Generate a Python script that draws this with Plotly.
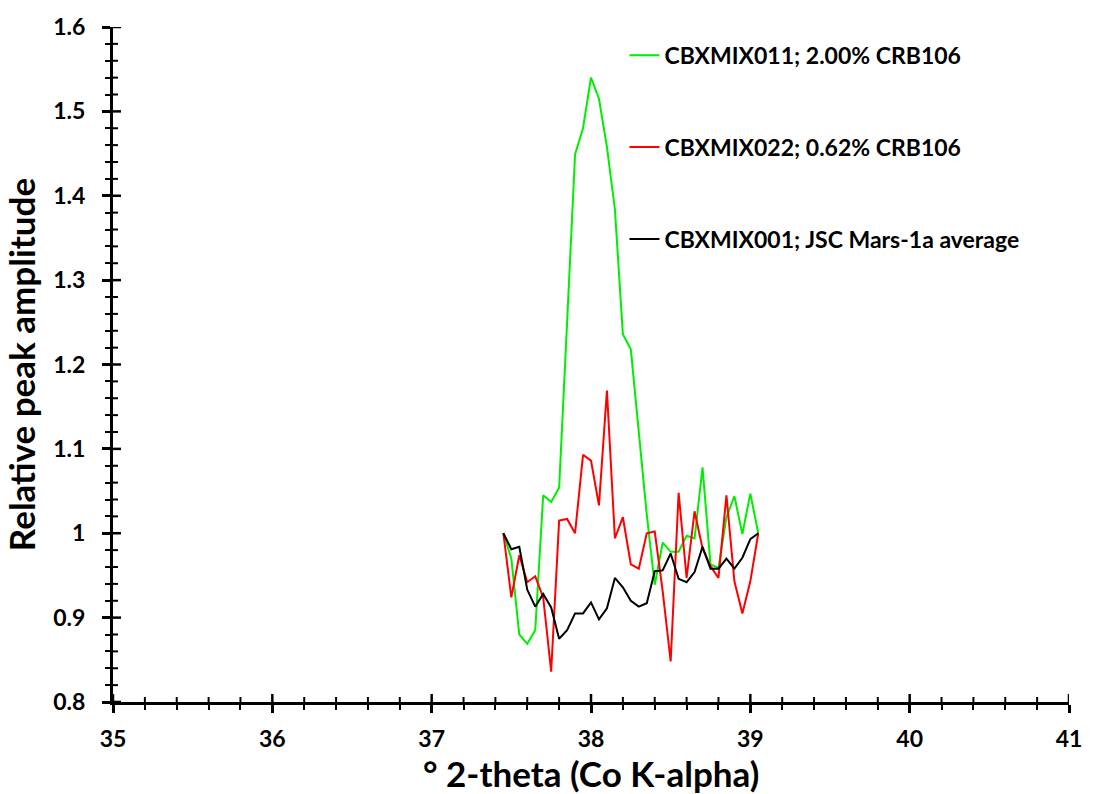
import plotly.graph_objects as go

# 2-theta positions (deg), step 0.05 from 37.45 to 39.05
two_theta = [round(37.45 + 0.05 * i, 2) for i in range(33)]

green_2pct = [1.000, 0.970, 0.880, 0.869, 0.885, 1.045, 1.037, 1.054, 1.250, 1.449,
              1.480, 1.540, 1.515, 1.458, 1.384, 1.236, 1.218, 1.119, 1.022, 0.939,
              0.989, 0.978, 0.978, 0.997, 0.994, 1.078, 0.963, 0.959, 1.019, 1.044,
              0.999, 1.047, 1.000]

red_062pct = [1.000, 0.924, 0.974, 0.942, 0.949, 0.924, 0.836, 1.015, 1.017, 1.000,
              1.093, 1.086, 1.033, 1.169, 0.994, 1.019, 0.963, 0.958, 1.000, 1.002,
              0.931, 0.848, 1.048, 0.947, 1.026, 0.982, 0.961, 0.947, 1.045, 0.943,
              0.905, 0.943, 1.000]

black_avg = [1.000, 0.981, 0.984, 0.933, 0.913, 0.928, 0.912, 0.875, 0.885, 0.905,
             0.905, 0.918, 0.898, 0.911, 0.947, 0.936, 0.920, 0.913, 0.917, 0.955,
             0.956, 0.976, 0.946, 0.942, 0.954, 0.984, 0.958, 0.958, 0.970, 0.958,
             0.971, 0.993, 1.000]

series_names = ["CBXMIX011; 2.00% CRB106",
                "CBXMIX022; 0.62% CRB106",
                "CBXMIX001; JSC Mars-1a average"]
series_colors = ["#00EE00", "#FF0000", "#000000"]

x_ticks = [35, 36, 37, 38, 39, 40, 41]
y_ticks = [0.8, 0.9, 1.0, 1.1, 1.2, 1.3, 1.4, 1.5, 1.6]
y_tick_text = ["0.8", "0.9", "1", "1.1", "1.2", "1.3", "1.4", "1.5", "1.6"]
x_range = [35, 41]
y_range = [0.8, 1.6]
x_minor_step = 0.2
y_minor_step = 0.02

FONT = "Lato"

fig = go.Figure()
for name, ys, col in zip(series_names, [green_2pct, red_062pct, black_avg], series_colors):
    fig.add_trace(go.Scatter(x=two_theta, y=ys, mode="lines", name=name,
                             legendgroup=name,
                             line=dict(color=col, width=2)))

axis_common = dict(showgrid=False, zeroline=False, showline=True, linecolor="black",
                   linewidth=3, ticks="outside", tickwidth=2.5, ticklen=8, tickcolor="black",
                   tickfont=dict(family=FONT, size=23, color="black", weight="bold"))

fig.update_layout(
    width=1094, height=794,
    margin=dict(l=113, r=22, t=19, b=92),
    plot_bgcolor="white", paper_bgcolor="white",
    xaxis=dict(range=x_range, tickvals=x_ticks, ticklabelstandoff=6,
               minor=dict(dtick=x_minor_step, ticks="outside", ticklen=5, tickwidth=2,
                          tickcolor="black"),
               **axis_common),
    yaxis=dict(range=y_range, tickvals=y_ticks, ticktext=y_tick_text, ticklabelstandoff=12,
               minor=dict(dtick=y_minor_step, ticks="outside", ticklen=5, tickwidth=2,
                          tickcolor="black"),
               title=dict(text="Relative peak amplitude", standoff=8,
                          font=dict(family=FONT, size=35, color="black", weight="bold")),
               **axis_common),
    legend=dict(x=0.535, y=0.99, xanchor="left", yanchor="top", bgcolor="rgba(0,0,0,0)",
                traceorder="grouped", tracegroupgap=59, itemwidth=30,
                font=dict(family=FONT, size=23, color="black", weight="bold")),
    showlegend=True,
)

# inner halves of the crossing tick marks (pixel-sized, anchored on the axis values)
def inner_tick_x(val, length, width):
    fig.add_shape(type="line", xref="x", yref="y", ysizemode="pixel", yanchor=y_range[0],
                  x0=val, x1=val, y0=0, y1=length,
                  line=dict(color="black", width=width))

def inner_tick_y(val, length, width):
    fig.add_shape(type="line", xref="x", yref="y", xsizemode="pixel", xanchor=x_range[0],
                  y0=val, y1=val, x0=0, x1=length,
                  line=dict(color="black", width=width))

n_x_minor = int(round((x_range[1] - x_range[0]) / x_minor_step))
for i in range(n_x_minor + 1):
    v = round(x_range[0] + i * x_minor_step, 4)
    if any(abs(v - t) < 1e-6 for t in x_ticks):
        inner_tick_x(v, 8, 2.5)
    else:
        inner_tick_x(v, 5, 2)

n_y_minor = int(round((y_range[1] - y_range[0]) / y_minor_step))
for i in range(n_y_minor + 1):
    v = round(y_range[0] + i * y_minor_step, 4)
    if any(abs(v - t) < 1e-6 for t in y_ticks):
        inner_tick_y(v, 8, 2.5)
    else:
        inner_tick_y(v, 5, 2)

fig.add_annotation(text="° 2-theta (Co K-alpha)", xref="paper", yref="paper",
                   x=0.5, y=-(774 - 702) / (794 - 19 - 92),
                   xanchor="center", yanchor="middle", showarrow=False,
                   font=dict(family=FONT, size=35, color="black", weight="bold"))

fig.write_html("out.html")
